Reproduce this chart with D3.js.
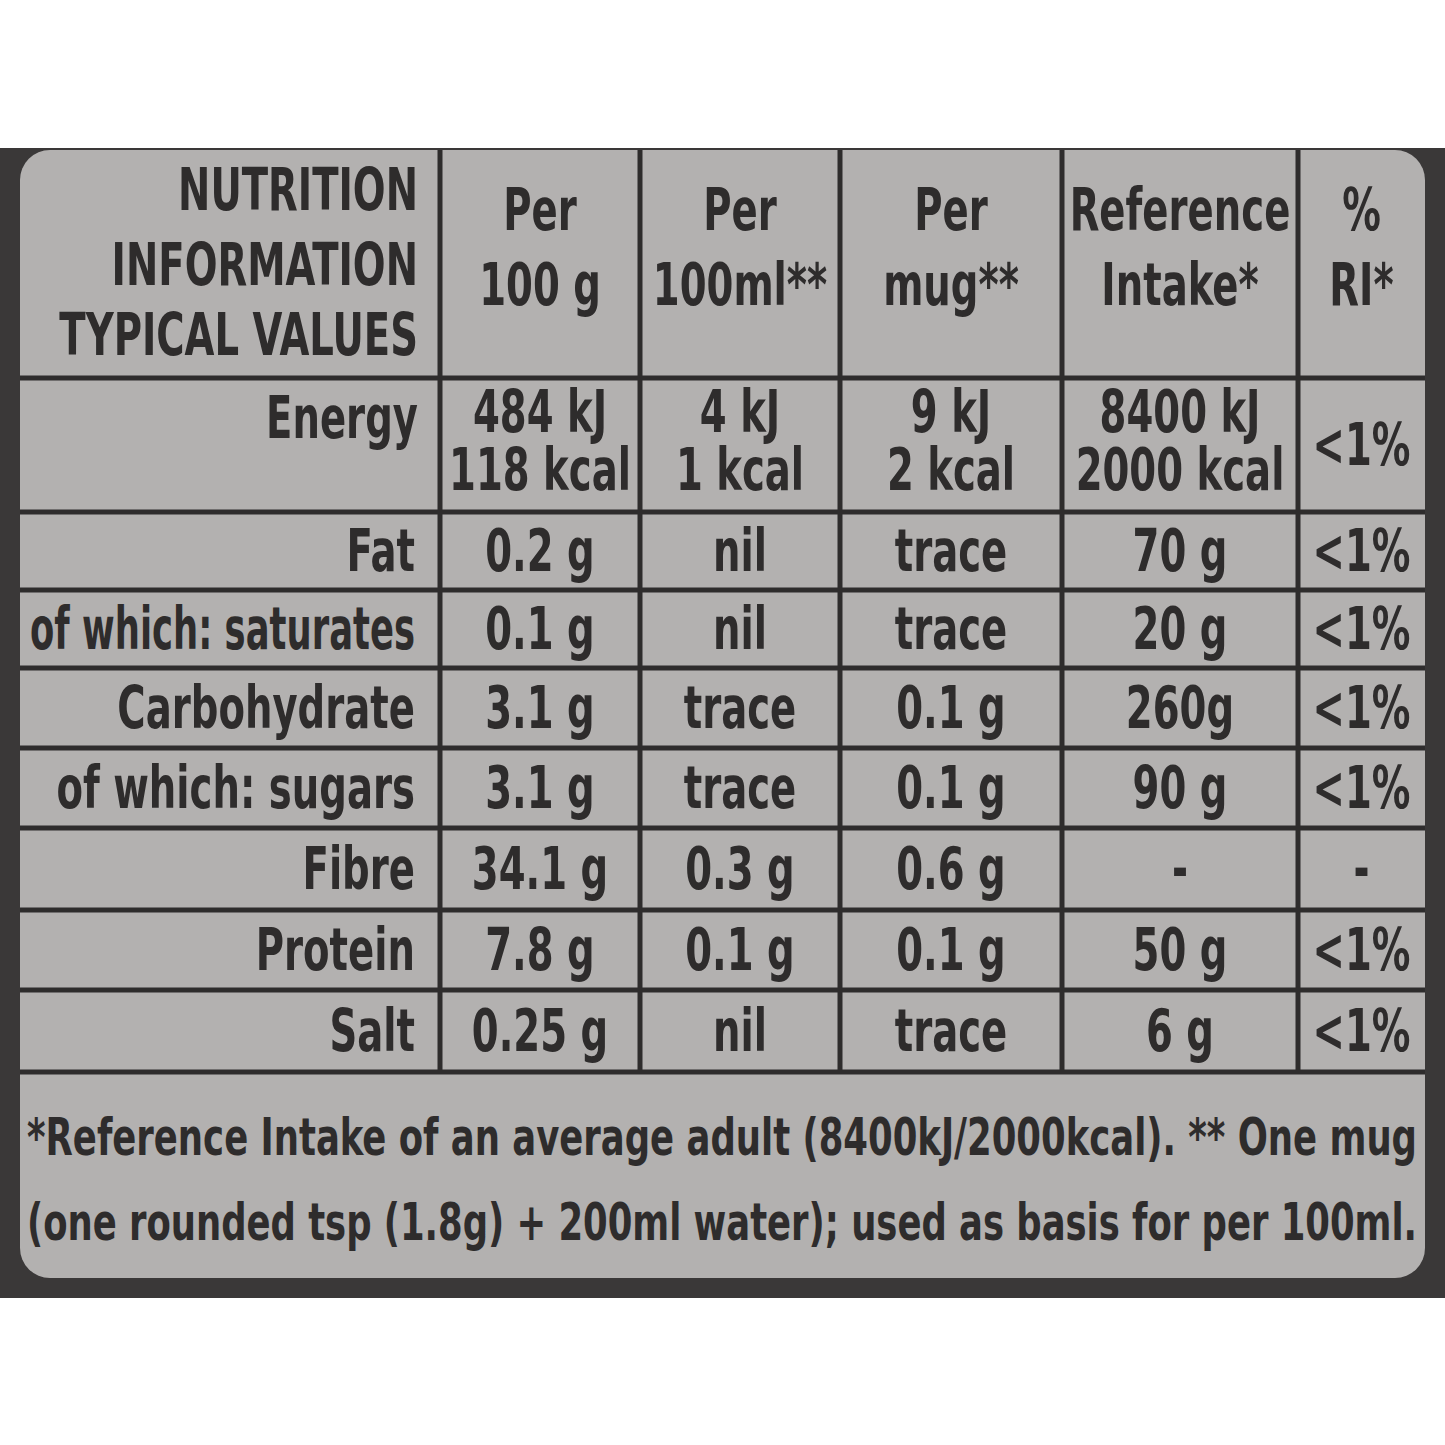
<!DOCTYPE html>
<html><head><meta charset="utf-8">
<script src="https://cdn.jsdelivr.net/npm/d3@7"></script>
<style>body{margin:0;background:#fff}</style></head>
<body><svg id="c" width="1445" height="1445"></svg>
<script>
const header = [["NUTRITION","INFORMATION","TYPICAL VALUES"],["Per","100 g"],["Per","100ml**"],["Per","mug**"],["Reference","Intake*"],["%","RI*"]];
const nutrients = ["Energy","Fat","of which: saturates","Carbohydrate","of which: sugars","Fibre","Protein","Salt"];
const per100g = [["484 kJ","118 kcal"],["0.2 g"],["0.1 g"],["3.1 g"],["3.1 g"],["34.1 g"],["7.8 g"],["0.25 g"]];
const per100ml = [["4 kJ","1 kcal"],["nil"],["nil"],["trace"],["trace"],["0.3 g"],["0.1 g"],["nil"]];
const perMug = [["9 kJ","2 kcal"],["trace"],["trace"],["0.1 g"],["0.1 g"],["0.6 g"],["0.1 g"],["trace"]];
const refIntake = [["8400 kJ","2000 kcal"],["70 g"],["20 g"],["260g"],["90 g"],["-"],["50 g"],["6 g"]];
const pctRI = [["<1%"],["<1%"],["<1%"],["<1%"],["<1%"],["-"],["<1%"],["<1%"]];
const footnote = ["*Reference Intake of an average adult (8400kJ/2000kcal). ** One mug","(one rounded tsp (1.8g) + 200ml water); used as basis for per 100ml."];

const svg = d3.select("#c");
const ink = "#2e2c2c";
const font = "'DejaVu Sans Condensed','Liberation Sans Narrow',sans-serif";
svg.append("rect").attr("x",0).attr("y",148).attr("width",1445).attr("height",1150).attr("fill","#3a3838");
svg.append("rect").attr("x",20).attr("y",150).attr("width",1405).attr("height",1128).attr("rx",30).attr("fill","#b3b1b0");

const colEdges = [20,440,640,840,1062,1298,1425];
const bounds = [150,378,512,590,668,748,828,910,990,1072];
const rowY = d3.scaleOrdinal().domain(d3.range(bounds.length)).range(bounds);

const g = svg.append("g");
g.selectAll(".h").data(d3.range(1,bounds.length)).join("line")
 .attr("x1",20).attr("x2",1425).attr("y1",i=>rowY(i)).attr("y2",i=>rowY(i))
 .attr("stroke",ink).attr("stroke-width",5);
g.selectAll(".v").data(colEdges.slice(1,-1)).join("line")
 .attr("x1",d=>d).attr("x2",d=>d).attr("y1",150).attr("y2",1072)
 .attr("stroke",ink).attr("stroke-width",5);

const SX=0.74;
const tg = svg.append("g").attr("transform",`scale(${SX},1)`);
function txt(s,xp,yp,anchor,size,maxW){
  const t=tg.append("text").attr("x",xp/SX).attr("y",yp).attr("text-anchor",anchor)
   .attr("font-family",font).attr("font-weight","bold").attr("font-size",size||58)
   .attr("fill",ink).text(s);
  if(maxW){const w=t.node().getComputedTextLength()*SX; if(w>maxW) t.attr("textLength",maxW/SX).attr("lengthAdjust","spacingAndGlyphs");}
}
const centers = colEdges.slice(1,-1).map((e,i)=>(e+colEdges[i+2])/2);
const widths = colEdges.slice(1,-1).map((e,i)=>colEdges[i+2]-e-14);
const hl=[[210,285,355],[230,305],[230,305],[230,305],[230,305],[230,305]];
header[0].forEach((s,j)=>txt(s,418,hl[0][j],"end",58,385));
header.slice(1).forEach((lines,i)=>lines.forEach((s,j)=>txt(s,centers[i],hl[i+1][j],"middle",58,widths[i])));
const cols=[per100g,per100ml,perMug,refIntake,pctRI];
nutrients.forEach((n,r)=>{
  const top=bounds[r+1], bot=bounds[r+2], mid=(top+bot)/2;
  if(r===0){
    txt(n,418,438,"end",58,385);
    cols.forEach((c,ci)=>{
      if(c[r].length===2){txt(c[r][0],centers[ci],432,"middle",58,widths[ci]);txt(c[r][1],centers[ci],490,"middle",58,widths[ci]);}
      else txt(c[r][0],centers[ci],mid+20,"middle",58,widths[ci]);
    });
  } else {
    txt(n,415,mid+20,"end",58,385);
    cols.forEach((c,ci)=>txt(c[r][0],centers[ci],mid+20,"middle",58,widths[ci]));
  }
});
footnote.forEach((s,i)=>g.append("text").attr("x",722).attr("y",1155+i*85).attr("text-anchor","middle")
  .attr("font-family",font).attr("font-weight","bold").attr("font-size",52).attr("fill",ink)
  .attr("textLength",1390).attr("lengthAdjust","spacingAndGlyphs").text(s));
</script></body></html>
